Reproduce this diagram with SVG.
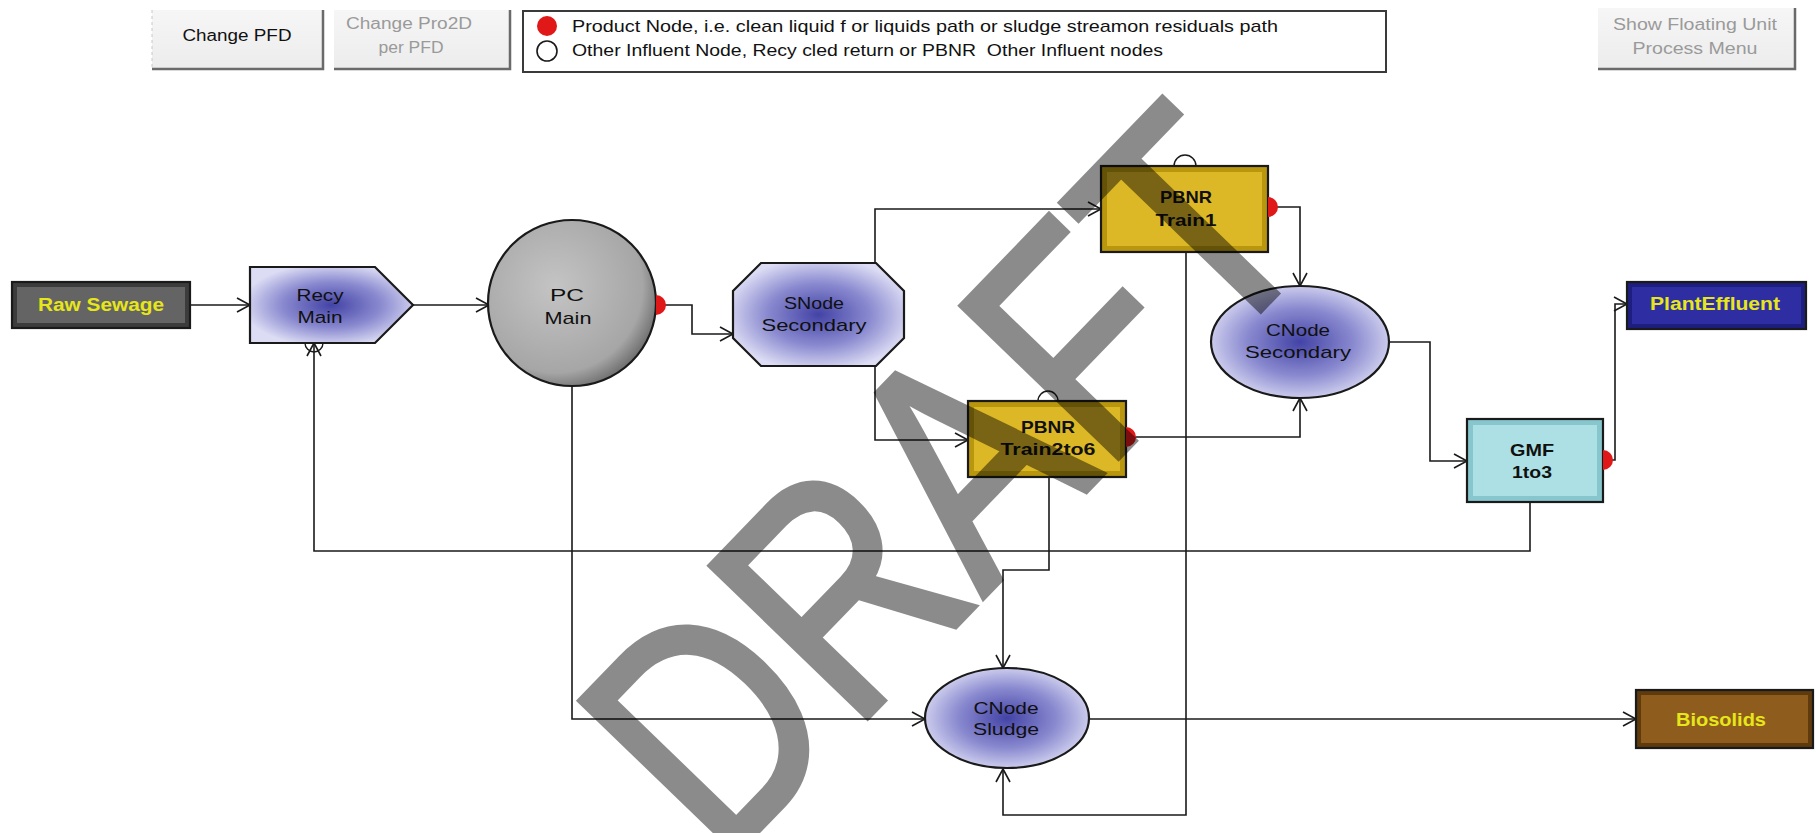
<svg xmlns="http://www.w3.org/2000/svg" width="1816" height="833" viewBox="0 0 1816 833">
<style>
text{font-family:"Liberation Sans",Arial,sans-serif;}
.lbl{font-size:17px;fill:#101010;text-anchor:middle;}
.b{font-weight:bold;}
.yl{font-size:18px;font-weight:bold;fill:#e6e61a;text-anchor:middle;}
.btn{font-size:16px;text-anchor:middle;}
.con{fill:none;stroke:#1a1a1a;stroke-width:1.6;}
.edge{stroke:#1a1a1a;stroke-width:2.2;}
.red{fill:#e01818;}
</style>
<defs>
<marker id="arr" markerWidth="16" markerHeight="16" refX="14" refY="8" orient="auto" markerUnits="userSpaceOnUse">
<path d="M1,1 L14,8 L1,15" fill="none" stroke="#1a1a1a" stroke-width="1.6"/>
</marker>
<radialGradient id="blue" cx="50%" cy="50%" r="55%">
<stop offset="0" stop-color="#4343a6"/>
<stop offset="0.55" stop-color="#8a8ad0"/>
<stop offset="1" stop-color="#dcdcf4"/>
</radialGradient>
<radialGradient id="gray" cx="40%" cy="40%" r="65%">
<stop offset="0" stop-color="#c4c4c4"/>
<stop offset="0.8" stop-color="#a6a6a6"/>
<stop offset="1" stop-color="#6a6a6a"/>
</radialGradient>
<linearGradient id="btnG" x1="0" y1="0" x2="0" y2="1">
<stop offset="0" stop-color="#f6f6f6"/>
<stop offset="1" stop-color="#ececec"/>
</linearGradient>
</defs>

<g id="buttons">
<g id="btn-change-pfd">
<rect x="152" y="10" width="171" height="60" fill="url(#btnG)"/>
<path d="M152,69 H323 V10" fill="none" stroke="#6a6a6a" stroke-width="2.5"/>
<line x1="152" y1="10" x2="152" y2="69" stroke="#c8c8c8" stroke-dasharray="3,3"/>
<text class="btn" x="237" y="41" fill="#111" textLength="109" lengthAdjust="spacingAndGlyphs">Change PFD</text>
</g>
<g id="btn-change-pro2d">
<rect x="334" y="10" width="176" height="60" fill="url(#btnG)"/>
<path d="M334,69 H510 V10" fill="none" stroke="#6a6a6a" stroke-width="2.5"/>
<text class="btn" x="409" y="29" fill="#9a9a9a" textLength="126" lengthAdjust="spacingAndGlyphs">Change Pro2D</text>
<text class="btn" x="411" y="53" fill="#9a9a9a" textLength="65" lengthAdjust="spacingAndGlyphs">per PFD</text>
</g>
<g id="btn-show-floating">
<rect x="1598" y="8" width="197" height="62" fill="url(#btnG)"/>
<path d="M1598,69 H1795 V8" fill="none" stroke="#6a6a6a" stroke-width="2.5"/>
<text class="btn" x="1695" y="30" fill="#9a9a9a" textLength="164" lengthAdjust="spacingAndGlyphs">Show Floating Unit</text>
<text class="btn" x="1695" y="54" fill="#9a9a9a" textLength="125" lengthAdjust="spacingAndGlyphs">Process Menu</text>
</g>
</g>

<g id="legend">
<rect x="523" y="11" width="863" height="61" fill="#ffffff" stroke="#3a3a3a" stroke-width="2"/>
<circle cx="547" cy="26" r="10" fill="#e01818"/>
<circle cx="547" cy="51" r="10" fill="#ffffff" stroke="#1a1a1a" stroke-width="1.6"/>
<text x="572" y="32" font-size="17" fill="#111" textLength="706" lengthAdjust="spacingAndGlyphs">Product Node, i.e. clean liquid f or liquids path or sludge streamon residuals path</text>
<text x="572" y="56" font-size="17" fill="#111" textLength="591" lengthAdjust="spacingAndGlyphs" xml:space="preserve">Other Influent Node, Recy cled return or PBNR  Other Influent nodes</text>
</g>

<g id="connectors">
<path class="con" d="M190,305 H250" marker-end="url(#arr)"/>
<path class="con" d="M413,305 H489" marker-end="url(#arr)"/>
<path class="con" d="M656,305 H692 V334 H733" marker-end="url(#arr)"/>
<path class="con" d="M875,264 V209 H1101" marker-end="url(#arr)"/>
<path class="con" d="M875,365 V440 H968" marker-end="url(#arr)"/>
<path class="con" d="M1268,207 H1300 V286" marker-end="url(#arr)"/>
<path class="con" d="M1126,437 H1300 V398" marker-end="url(#arr)"/>
<path class="con" d="M1389,342 H1430 V461 H1467" marker-end="url(#arr)"/>
<path class="con" d="M1602,460 H1615 V304 H1627" marker-end="url(#arr)"/>
<path class="con" d="M1530,502 V551 H314 V343" marker-end="url(#arr)"/>
<path class="con" d="M572,386 V719 H925" marker-end="url(#arr)"/>
<path class="con" d="M1049,477 V570 H1003 V668" marker-end="url(#arr)"/>
<path class="con" d="M1186,252 V815 H1003 V769" marker-end="url(#arr)"/>
<path class="con" d="M1089,719 H1636" marker-end="url(#arr)"/>
</g>

<g id="raw-sewage">
<rect x="12" y="282" width="178" height="46" fill="#3c3c3c" class="edge"/>
<rect x="17" y="287" width="168" height="36" fill="#646464"/>
<text class="yl" x="101" y="311" textLength="126" lengthAdjust="spacingAndGlyphs">Raw Sewage</text>
</g>

<g id="recy-main">
<polygon points="250,267 375,267 413,305 375,343 250,343" fill="url(#blue)" class="edge"/>
<path d="M305,343 A9,9 0 0 0 323,343" fill="none" stroke="#1a1a1a" stroke-width="1.4"/>
<text class="lbl" x="320" y="301" textLength="47" lengthAdjust="spacingAndGlyphs">Recy</text>
<text class="lbl" x="320" y="323" textLength="45" lengthAdjust="spacingAndGlyphs">Main</text>
</g>

<g id="pc-main">
<ellipse cx="572" cy="303" rx="84" ry="83" fill="url(#gray)" class="edge"/>
<path class="red" d="M656,295 A9,9 0 0 1 656,315 Z"/>
<text class="lbl" x="567" y="301" textLength="34" lengthAdjust="spacingAndGlyphs">PC</text>
<text class="lbl" x="568" y="324" textLength="47" lengthAdjust="spacingAndGlyphs">Main</text>
</g>

<g id="snode-secondary">
<polygon points="761,263 876,263 904,291 904,338 876,366 761,366 733,338 733,291" fill="url(#blue)" class="edge"/>
<text class="lbl" x="814" y="309" textLength="60" lengthAdjust="spacingAndGlyphs">SNode</text>
<text class="lbl" x="814" y="331" textLength="105" lengthAdjust="spacingAndGlyphs">Secondary</text>
</g>

<g id="pbnr-train1">
<path d="M1174,166 A11,11 0 0 1 1196,166" fill="#fff" stroke="#1a1a1a" stroke-width="1.4"/>
<rect x="1101" y="166" width="167" height="86" fill="#b8960e" class="edge"/>
<rect x="1107" y="172" width="155" height="74" fill="#dcb826"/>
<path class="red" d="M1268,197 A10,10 0 0 1 1268,217 Z"/>
<text class="lbl b" x="1186" y="203" textLength="52" lengthAdjust="spacingAndGlyphs">PBNR</text>
<text class="lbl b" x="1186" y="226" textLength="61" lengthAdjust="spacingAndGlyphs">Train1</text>
</g>

<g id="pbnr-train2to6">
<path d="M1038,401 A10,10 0 0 1 1058,401" fill="#fff" stroke="#1a1a1a" stroke-width="1.4"/>
<rect x="968" y="401" width="158" height="76" fill="#b8960e" class="edge"/>
<rect x="974" y="407" width="146" height="64" fill="#dcb826"/>
<path class="red" d="M1126,427 A10,10 0 0 1 1126,447 Z"/>
<text class="lbl b" x="1048" y="433" textLength="54" lengthAdjust="spacingAndGlyphs">PBNR</text>
<text class="lbl b" x="1048" y="455" textLength="95" lengthAdjust="spacingAndGlyphs">Train2to6</text>
</g>

<g id="cnode-secondary">
<ellipse cx="1300" cy="342" rx="89" ry="56" fill="url(#blue)" class="edge"/>
<text class="lbl" x="1298" y="336" textLength="64" lengthAdjust="spacingAndGlyphs">CNode</text>
<text class="lbl" x="1298" y="358" textLength="106" lengthAdjust="spacingAndGlyphs">Secondary</text>
</g>

<g id="gmf-1to3">
<rect x="1467" y="419" width="136" height="83" fill="#86c6cc" class="edge"/>
<rect x="1473" y="425" width="124" height="71" fill="#ace0e4"/>
<path class="red" d="M1603,450 A10,10 0 0 1 1603,470 Z"/>
<text class="lbl b" x="1532" y="456" textLength="44" lengthAdjust="spacingAndGlyphs">GMF</text>
<text class="lbl b" x="1532" y="478" textLength="40" lengthAdjust="spacingAndGlyphs">1to3</text>
</g>

<g id="plant-effluent">
<rect x="1627" y="282" width="179" height="47" fill="#1e1e80" class="edge"/>
<rect x="1632" y="287" width="169" height="37" fill="#2e2ea2"/>
<text class="yl" x="1715" y="310" textLength="130" lengthAdjust="spacingAndGlyphs">PlantEffluent</text>
</g>

<g id="cnode-sludge">
<ellipse cx="1007" cy="718" rx="82" ry="50" fill="url(#blue)" class="edge"/>
<text class="lbl" x="1006" y="714" textLength="65" lengthAdjust="spacingAndGlyphs">CNode</text>
<text class="lbl" x="1006" y="735" textLength="66" lengthAdjust="spacingAndGlyphs">Sludge</text>
</g>

<g id="biosolids">
<rect x="1636" y="690" width="177" height="58" fill="#5e3a0c" class="edge"/>
<rect x="1641" y="695" width="167" height="48" fill="#8e5c1c"/>
<text class="yl" x="1721" y="726" textLength="90" lengthAdjust="spacingAndGlyphs">Biosolids</text>
</g>

<g id="watermark" opacity="0.45">
<text x="0" y="0" transform="translate(722,868) rotate(-46) scale(1,1.22)" font-size="260" fill="#000000" stroke="#000000" stroke-width="5" stroke-linejoin="miter">DRAFT</text>
</g>
</svg>
